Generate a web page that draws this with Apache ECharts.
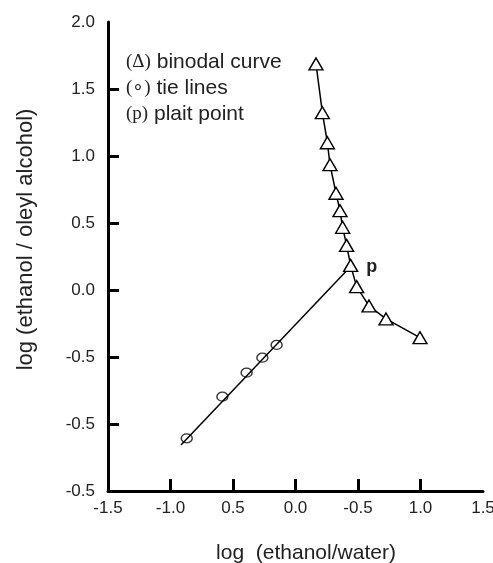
<!DOCTYPE html>
<html>
<head>
<meta charset="utf-8">
<script src="https://cdn.jsdelivr.net/npm/echarts@6/dist/echarts.min.js"></script>
<style>
  html, body { margin: 0; padding: 0; background: #fff; }
  #grafico { width: 493px; height: 563px; }
</style>
</head>
<body>
<div id="grafico"></div>
<script>
// tick labels as printed on the original figure (bottom->top, left->right)
var xTickLabels = ['-1.5', '-1.0', '0.5', '0.0', '-0.5', '1.0', '1.5'];
var yTickLabels = ['-0.5', '-0.5', '-0.5', '0.0', '0.5', '1.0', '1.5', '2.0'];

// binodal curve (triangles)
var binodalX = [0.164, 0.215, 0.255, 0.276, 0.324, 0.356, 0.377, 0.409, 0.441, 0.489, 0.588, 0.724, 0.996];
var binodalY = [1.687, 1.323, 1.099, 0.935, 0.722, 0.592, 0.468, 0.333, 0.184, 0.025, -0.119, -0.216, -0.356];

// tie lines (circles)
var tieX = [-0.870, -0.585, -0.391, -0.265, -0.151];
var tieY = [-1.107, -0.796, -0.617, -0.505, -0.410];

// fitted tie line to plait point
var fitX = [-0.916, 0.426];
var fitY = [-1.157, 0.161];

var plaitIndex = 8;

function pairs(xs, ys) {
  var out = [];
  for (var i = 0; i < xs.length; i++) out.push([xs[i], ys[i]]);
  return out;
}

function grafico() {
  var chart = echarts.init(document.getElementById('grafico'));
  var font = 'Liberation Sans, Arial, sans-serif';
  var labelFont = { color: '#222', fontSize: 17, fontFamily: font };
  var option = {
    animation: false,
    backgroundColor: '#fff',
    grid: { left: 108, right: 10, top: 22, bottom: 72, outerBoundsMode: 'none' },
    xAxis: {
      type: 'value',
      min: -1.5, max: 1.5, interval: 0.5,
      name: 'log  (ethanol/water)',
      nameLocation: 'middle',
      nameGap: 52,
      nameTextStyle: { color: '#222', fontSize: 21, fontFamily: font, padding: [0, 0, 0, 21] },
      splitLine: { show: false },
      axisLine: { onZero: false, lineStyle: { color: '#000', width: 3 } },
      axisTick: { inside: true, length: 12, lineStyle: { color: '#000', width: 3 }, customValues: [-1, -0.5, 0, 0.5, 1] },
      axisLabel: Object.assign({ margin: 9, formatter: function (v) {
        return xTickLabels[Math.round((v + 1.5) / 0.5)];
      } }, labelFont)
    },
    yAxis: {
      type: 'value',
      min: -1.5, max: 2.0, interval: 0.5,
      name: 'log (ethanol / oleyl alcohol)',
      nameLocation: 'middle',
      nameGap: 71,
      nameTextStyle: { color: '#222', fontSize: 22, fontFamily: font, padding: [0, 0, 0, 34] },
      splitLine: { show: false },
      axisLine: { onZero: false, lineStyle: { color: '#000', width: 3 } },
      axisTick: { inside: true, length: 11, lineStyle: { color: '#000', width: 3 }, customValues: [-1, -0.5, 0, 0.5, 1, 1.5] },
      axisLabel: Object.assign({ margin: 13, formatter: function (v) {
        return yTickLabels[Math.round((v + 1.5) / 0.5)];
      } }, labelFont)
    },
    graphic: [
      {
        type: 'text', left: 126, top: 49,
        style: {
          text: '{s|(\u0394)} binodal curve\n{s|(\u2218)} tie lines\n{s|(p)} plait point',
          fill: '#222', fontSize: 21, lineHeight: 26,
          fontFamily: font,
          rich: { s: { fontFamily: 'Liberation Serif, serif', fontSize: 19, fill: '#222' } }
        }
      }
    ],
    series: [
      {
        name: 'fit',
        type: 'line',
        data: pairs(fitX, fitY),
        showSymbol: false,
        lineStyle: { color: '#000', width: 1.5 },
        z: 2
      },
      {
        name: 'tie lines',
        type: 'scatter',
        data: pairs(tieX, tieY),
        symbol: 'circle',
        symbolSize: [11, 9],
        itemStyle: { color: 'rgba(0,0,0,0)', borderColor: '#000', borderWidth: 1.3 },
        z: 3
      },
      {
        name: 'binodal curve',
        type: 'line',
        data: pairs(binodalX, binodalY),
        symbol: 'triangle',
        symbolSize: [14, 12],
        showAllSymbol: true,
        lineStyle: { color: '#000', width: 1.5 },
        itemStyle: { color: '#fff', borderColor: '#000', borderWidth: 1.4 },
        markPoint: {
          symbol: 'circle', symbolSize: 1,
          itemStyle: { color: 'rgba(0,0,0,0)' },
          label: { show: true, formatter: 'p', position: 'right', distance: 15, offset: [0, 2], color: '#222', fontWeight: 'bold', fontSize: 18, fontFamily: font },
          data: [{ coord: [binodalX[plaitIndex], binodalY[plaitIndex]] }]
        },
        z: 4
      }
    ]
  };
  chart.setOption(option);
}

grafico();
</script>
</body>
</html>
